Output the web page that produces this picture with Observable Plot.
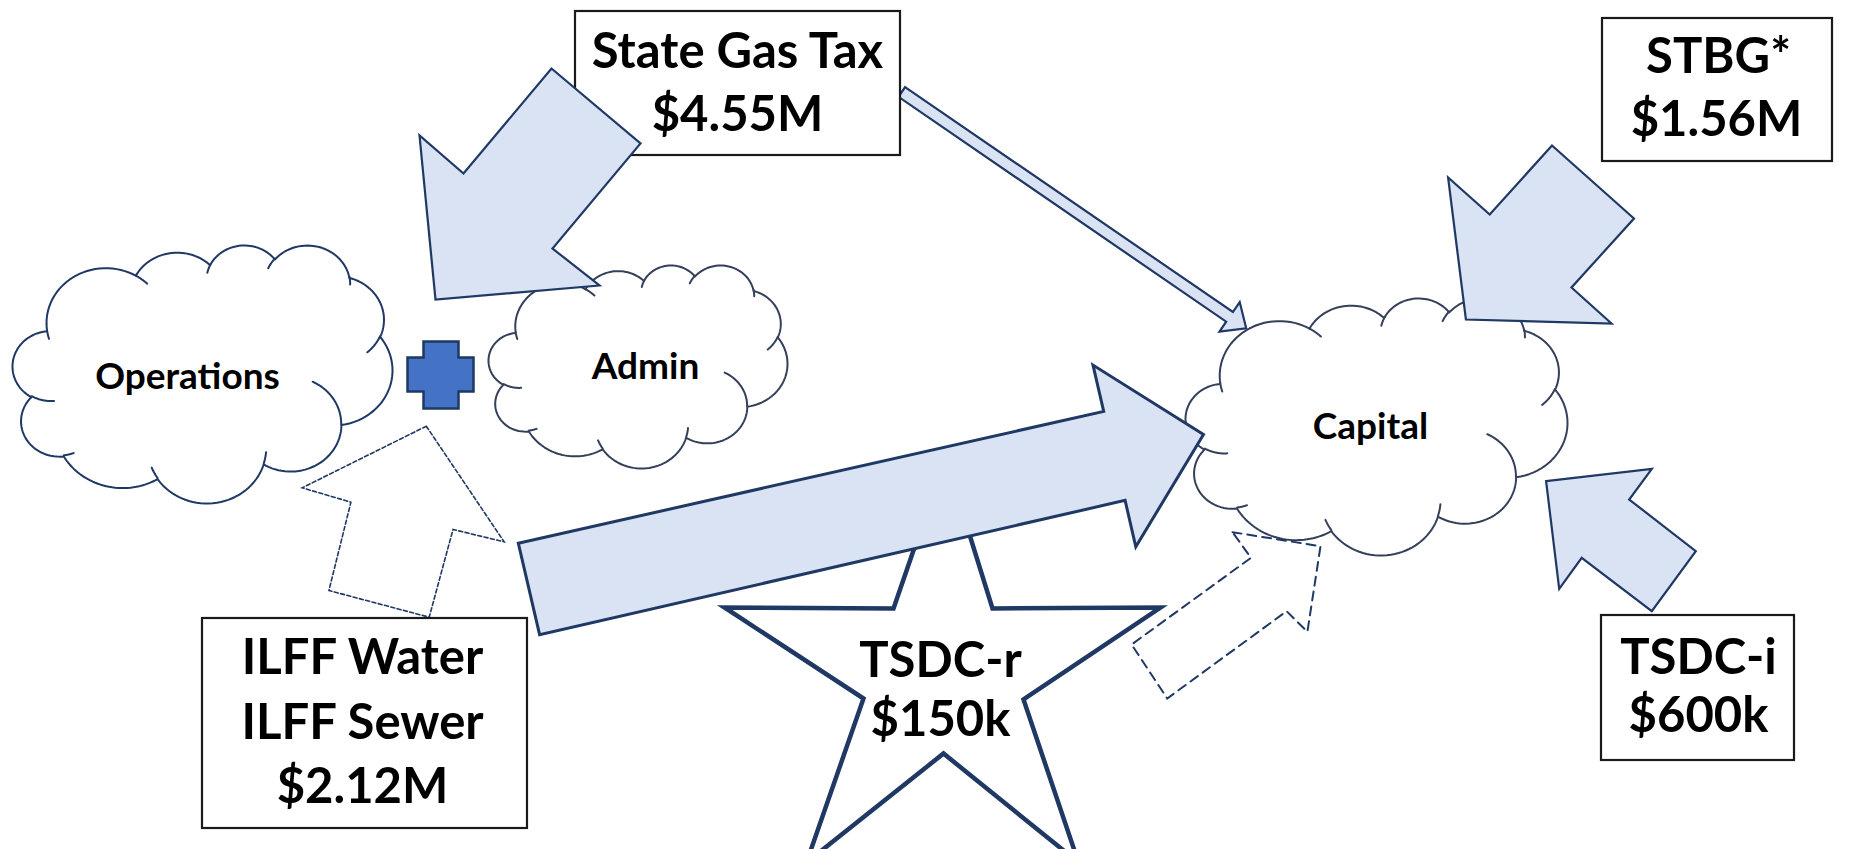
<!DOCTYPE html>
<html><head><meta charset="utf-8">
<script src="https://cdn.jsdelivr.net/npm/d3@7"></script>
<script src="https://cdn.jsdelivr.net/npm/@observablehq/plot@0.6"></script>
<style>html,body{margin:0;padding:0;background:#fff;overflow:hidden}</style>
</head><body><div id="chart"></div>
<script>
// ---------- data (diagram geometry in page pixels) ----------
const boxes = [
  {id: "gas",   x1: 575,  y1: 11,  x2: 900,  y2: 155},
  {id: "stbg",  x1: 1602, y1: 18,  x2: 1832, y2: 161},
  {id: "tsdci", x1: 1601, y1: 615, x2: 1794, y2: 760},
  {id: "ilff",  x1: 202,  y1: 618, x2: 527,  y2: 828}
];
const boxText = ["State Gas Tax", "$4.55M", "STBG*", "$1.56M", "TSDC-i", "$600k", "ILFF Water", "ILFF Sewer", "$2.12M", "TSDC-r", "$150k"];
const boxTextX = [737, 737, 1718, 1716, 1698, 1698, 362, 362, 362, 940, 940];
const boxTextY = [52, 115, 57, 120, 658, 716, 658, 723, 787, 661, 720];

const cloudNames = ["Operations", "Admin", "Capital"];
const cloudBoxes = [[12, 245, 392, 503], [488, 265, 787, 468], [1185, 298, 1567, 555]];
const cloudLabelX = [187, 645, 1370];
const cloudLabelY = [377, 367, 427];

const thinArrow = {id: "gasToCapital", pts: [[904.6,86.6],[1232.4,311.5],[1239.2,301.6],[1245.7,327.8],[1219.0,331.1],[1225.7,321.2],[898.0,96.3]]};
const solidArrows = [
  {id: "gasToAdmin", pts: [[551,68],[640,143],[552,248],[599,285],[435,299],[419,135],[463,173]]},
  {id: "stbgToCapital", pts: [[1551.5,145],[1633.5,218],[1571,287],[1611,323],[1465.4,319],[1447.6,177],[1489.2,214]]},
  {id: "tsdciToCapital", pts: [[1545.6,480.7],[1651.3,468.3],[1628.7,499],[1695.3,550.7],[1651.3,610.7],[1581.2,557.3],[1558.7,588.3]]}
];
const bigArrow = {id: "ilffToCapital", pts: [[517.8,542.7],[1103.2,410.9],[1092.5,364.6],[1203,434],[1135.3,546.3],[1124.6,499.9],[539.1,634.1]]};
const dashedArrowOps = {id: "ilffToOps", pts: [[425.8,425.7],[503.6,541.3],[452.5,529],[428.7,616.7],[328.4,590],[350.4,501.7],[301.7,487.3]]};
const dashedArrowCap = {id: "tsdcrToCapital", pts: [[1232,531.7],[1320,545.7],[1306.9,631.3],[1286.1,610.7],[1166.7,698],[1131.1,644],[1250.5,557.3]]};
const star = {id: "star", pts: [[945,457],[992,608],[1160,607],[1023,699],[1078,862],[943,753],[806,862],[863,698],[724,607],[893,608]]};
const plusSign = {id: "plus", pts: [[423,341],[458,341],[458,357],[473,357],[473,391],[458,391],[458,408],[423,408],[423,391],[407,391],[407,357],[423,357]]};

// ---------- Office "cloud" preset geometry (43200 x 43200 path units) ----------
const CLOUD_START = [3900, 14370];
const CLOUD_ARCS = [
  [6753,9190,-11429249,7426832],[5333,7267,-8646143,5396714],[4365,5945,-8748475,5983381],
  [4857,6595,-7859164,7034504],[5333,7273,-4722533,6541615],[6775,9220,-2776035,7816140],
  [5785,7867,37501,6842000],[6752,9215,1347096,6910353],[7720,10543,3974558,4542661],
  [4360,5918,-16496525,8804134],[4345,5945,-14809710,9151131]
];
const CLOUD_INNER = [
  [4693,26177,4345,5945,5204520,1585770],[6928,34899,4360,5918,4416628,686848],
  [16478,39090,6752,9215,8257449,844866],[28827,34751,6752,9215,387196,959901],
  [34129,22954,5785,7867,-4217541,4255042],[41798,15354,5333,7273,1819082,1665090],
  [38324,5426,4857,6595,-824660,891534],[29078,3952,4857,6595,-8950887,1091722],
  [22141,4720,4365,5945,-9809656,1061181],[14000,5192,6753,9190,-4002417,739161],
  [4127,15789,6753,9190,9459261,711490]
];
function ell(wR, hR, a) {
  const t = Math.atan2(wR * Math.sin(a), hR * Math.cos(a));
  return [wR * Math.cos(t), hR * Math.sin(t)];
}
function arcPts(x, y, wR, hR, st, sw) {
  const a0 = st / 60000 * Math.PI / 180, da = sw / 60000 * Math.PI / 180;
  const e0 = ell(wR, hR, a0), cx = x - e0[0], cy = y - e0[1];
  const out = [], n = 40;
  for (let i = 1; i <= n; i++) { const e = ell(wR, hR, a0 + da * i / n); out.push([cx + e[0], cy + e[1]]); }
  return out;
}
const outerUnit = (() => {
  let p = CLOUD_START.slice(); const pts = [p];
  for (const [wR, hR, st, sw] of CLOUD_ARCS) { const a = arcPts(p[0], p[1], wR, hR, st, sw); pts.push(...a); p = a[a.length - 1]; }
  return pts;
})();
const innerUnit = CLOUD_INNER.map(([x, y, wR, hR, st, sw]) => [[x, y], ...arcPts(x, y, wR, hR, st, sw)]);
const ux = d3.extent(outerUnit, d => d[0]), uy = d3.extent(outerUnit, d => d[1]);

const cloudOuterRows = [], cloudInnerRows = [];
cloudNames.forEach((name, k) => {
  const [x0, y0, x1, y1] = cloudBoxes[k];
  const mx = v => x0 + (v - ux[0]) / (ux[1] - ux[0]) * (x1 - x0);
  const my = v => y0 + (v - uy[0]) / (uy[1] - uy[0]) * (y1 - y0);
  outerUnit.forEach(([x, y]) => cloudOuterRows.push({id: name, x: mx(x), y: my(y)}));
  innerUnit.forEach((arc, j) => arc.forEach(([x, y]) => cloudInnerRows.push({id: name + j, cloud: name, x: mx(x), y: my(y)})));
});

const rows = shapes => shapes.flatMap(s => s.pts.map(([x, y]) => ({id: s.id, x, y})));
const textRows = boxText.map((t, i) => ({t, x: boxTextX[i], y: boxTextY[i]}));
const cloudTextRows = cloudNames.map((t, i) => ({t, x: cloudLabelX[i], y: cloudLabelY[i]}));

const NAVY = "#1f3864", LIGHT = "#dae3f3";
const poly = (data, o) => Plot.line(data, {x: "x", y: "y", z: "id", curve: "linear-closed", strokeLinejoin: "miter", strokeMiterlimit: 10, ...o});

const chart = Plot.plot({
  width: 1862, height: 849, margin: 0,
  style: {background: "#ffffff", overflow: "hidden"},
  x: {domain: [0, 1862], range: [0, 1862], axis: null},
  y: {domain: [0, 849], range: [0, 849], axis: null},
  marks: [
    poly(cloudOuterRows, {fill: "#ffffff", stroke: d => d.id === "Operations" ? "ops" : "other", strokeWidth: 2, strokeLinejoin: "round"}),
    Plot.line(cloudInnerRows, {x: "x", y: "y", z: "id", stroke: d => d.cloud === "Operations" ? "ops" : "other", strokeWidth: 2, fill: "none"}),
    poly(rows([star]), {fill: "#ffffff", stroke: NAVY, strokeWidth: 4.5}),
    poly(rows([dashedArrowOps]), {fill: "#ffffff", stroke: NAVY, strokeWidth: 1.6, strokeDasharray: "4,2.5"}),
    poly(rows([dashedArrowCap]), {fill: "#ffffff", stroke: NAVY, strokeWidth: 2, strokeDasharray: "9,6"}),
    poly(rows([thinArrow]), {fill: LIGHT, stroke: NAVY, strokeWidth: 2.2}),
    Plot.rect(boxes, {x1: "x1", y1: "y1", x2: "x2", y2: "y2", fill: "#ffffff", stroke: "#1a1a1a", strokeWidth: 2.2}),
    poly(rows(solidArrows), {fill: LIGHT, stroke: NAVY, strokeWidth: 2.2}),
    poly(rows([bigArrow]), {fill: LIGHT, stroke: NAVY, strokeWidth: 3}),
    poly(rows([plusSign]), {fill: "#4472c4", stroke: "#203864", strokeWidth: 2.5}),
    Plot.text(textRows, {x: "x", y: "y", text: "t", fontSize: 49, fontWeight: "bold", fontFamily: "Lato", fill: "#000"}),
    Plot.text(cloudTextRows, {x: "x", y: "y", text: "t", fontSize: 37, fontWeight: "bold", fontFamily: "Lato", fill: "#000"})
  ],
  color: {domain: ["ops", "other"], range: [NAVY, "#34405a"]}
});
document.getElementById("chart").append(chart);
</script></body></html>
